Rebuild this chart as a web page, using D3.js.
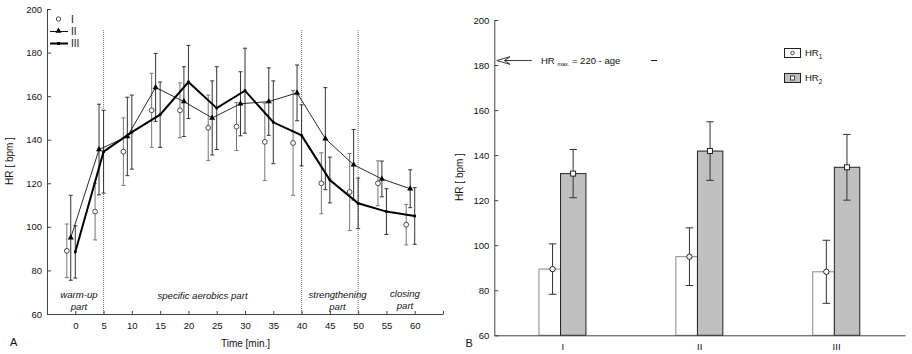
<!DOCTYPE html>
<html><head><meta charset="utf-8">
<script src="https://cdn.jsdelivr.net/npm/d3@7"></script>
<style>
body{margin:0;background:#fff;}
svg{display:block;font-family:"Liberation Sans",Arial,sans-serif;}
</style></head>
<body>
<svg id="c" width="912" height="354"></svg>
<script>
// ---------- Panel A data ----------
const times = [0,5,10,15,20,25,30,35,40,45,50,55,60];
const xTicksA = [0,5,10,15,20,25,30,35,40,45,50,55,60,65];
const yTicks = [60,80,100,120,140,160,180,200];
const seriesI   = [89, 107, 134.5, 153.5, 153.5, 145.5, 146, 139, 138.5, 120, 116, 120, 101];
const sdI       = [12.3, 13, 15.5, 17, 12.6, 15, 11, 17.8, 24, 14, 17.7, 10.3, 9.3];
const seriesII  = [95, 135.5, 141.5, 164, 157.5, 150, 156.5, 157.5, 161.5, 140.5, 128.5, 122, 117.5];
const sdII      = [19.5, 20.8, 18, 15.6, 16, 17, 14.7, 15.5, 12.8, 23.4, 16.2, 8.2, 8.7];
const seriesIII = [88.5, 134.5, 143.5, 151.5, 166.5, 154.5, 162.5, 148, 142, 121.5, 110.8, 107, 105];
const sdIII     = [12, 19, 17, 15, 16.8, 19, 19.5, 19, 14, 10.5, 11.6, 10.5, 13];
const seriesNames = ["I","II","III"];
const phaseBounds = [5, 40, 50];

// ---------- Panel B data ----------
const groups = ["I","II","III"];
const hr1 = [89.4, 94.9, 88.2];
const sd1 = [11.2, 12.8, 14];
const hr2 = [131.8, 141.8, 134.6];
const sd2 = [10.7, 13, 14.6];
const hrMaxLevel = 182;

const svg = d3.select("#c");
const axisCol = "#444";
const fs = "9.5px";

// ================= PANEL A =================
const xA = d3.scaleLinear().domain([-5,65]).range([47,443]);
const yA = d3.scaleLinear().domain([60,200]).range([314,9]);
const gA = svg.append("g");

gA.selectAll("line.ph").data(phaseBounds).join("line")
  .attr("x1",d=>xA(d)).attr("x2",d=>xA(d)).attr("y1",30).attr("y2",yA(60))
  .attr("stroke","#777").attr("stroke-width",1).attr("stroke-dasharray","1,1");

const axYA = d3.axisLeft(yA).tickValues(yTicks).tickSizeInner(-4).tickSizeOuter(0).tickPadding(5);
gA.append("g").attr("transform",`translate(${xA(-5)},0)`).call(axYA)
  .call(g=>{g.selectAll("path,line").attr("stroke",axisCol);g.selectAll("text").attr("font-size",fs).attr("fill","#111").attr("font-family","Liberation Sans, Arial");});
const axXA = d3.axisBottom(xA).tickValues(xTicksA).tickSizeInner(-3).tickSizeOuter(0).tickPadding(8.5)
  .tickFormat(d=>d>60?"":d);
gA.append("g").attr("transform",`translate(0,${yA(60)})`).call(axXA)
  .call(g=>{g.selectAll("path,line").attr("stroke",axisCol);g.selectAll("text").attr("font-size",fs).attr("fill","#111").attr("font-family","Liberation Sans, Arial");});

const series = [
  {vals:seriesI, sd:sdI, off:-1.5},
  {vals:seriesII, sd:sdII, off:-0.8},
  {vals:seriesIII, sd:sdIII, off:0}
];
function pts(s){return times.map((t,i)=>({x:xA(t+s.off), y:yA(s.vals[i]), hi:yA(s.vals[i]+s.sd[i]), lo:yA(s.vals[i]-s.sd[i])}));}

series.forEach((s,k)=>{
  const p = pts(s);
  const col = k===0?"#777":"#333";
  const g = gA.append("g").attr("stroke",col).attr("stroke-width",1).attr("fill","none");
  g.selectAll("line.v").data(p).join("line").attr("x1",d=>d.x).attr("x2",d=>d.x).attr("y1",d=>d.hi).attr("y2",d=>d.lo);
  g.selectAll("line.t").data(p).join("line").attr("x1",d=>d.x-2).attr("x2",d=>d.x+2).attr("y1",d=>d.hi).attr("y2",d=>d.hi);
  g.selectAll("line.b").data(p).join("line").attr("x1",d=>d.x-2).attr("x2",d=>d.x+2).attr("y1",d=>d.lo).attr("y2",d=>d.lo);
});

const line = d3.line().x(d=>d.x).y(d=>d.y);
gA.append("path").datum(pts(series[1])).attr("d",line).attr("fill","none").attr("stroke","#111").attr("stroke-width",0.9);
gA.append("path").datum(pts(series[2])).attr("d",line).attr("fill","none").attr("stroke","#000").attr("stroke-width",2);

gA.selectAll("circle.m1").data(pts(series[0])).join("circle")
  .attr("cx",d=>d.x).attr("cy",d=>d.y).attr("r",2.4).attr("fill","#fff").attr("stroke","#222").attr("stroke-width",0.8);
const tri = d3.symbol().type(d3.symbolTriangle).size(16);
gA.selectAll("path.m2").data(pts(series[1])).join("path")
  .attr("transform",d=>`translate(${d.x},${d.y})`).attr("d",tri).attr("fill","#000");
gA.selectAll("rect.m3").data(pts(series[2])).join("rect")
  .attr("x",d=>d.x-1.3).attr("y",d=>d.y-1.3).attr("width",2.6).attr("height",2.6).attr("fill","#000");

// legend A
const lg = gA.append("g");
lg.append("circle").attr("cx",58.5).attr("cy",19).attr("r",2.2).attr("fill","#fff").attr("stroke","#222").attr("stroke-width",0.8);
lg.append("line").attr("x1",50).attr("x2",68).attr("y1",31.5).attr("y2",31.5).attr("stroke","#111").attr("stroke-width",1);
lg.append("path").attr("transform","translate(58.5,31)").attr("d",tri).attr("fill","#000");
lg.append("line").attr("x1",50).attr("x2",68).attr("y1",43.5).attr("y2",43.5).attr("stroke","#000").attr("stroke-width",2);
lg.append("rect").attr("x",57).attr("y",42).attr("width",3).attr("height",3).attr("fill","#000");
lg.selectAll("text").data(seriesNames).join("text")
  .attr("x",71).attr("y",(d,i)=>22.5+i*12.3).attr("font-size","10px").attr("fill","#111").text(d=>d);

// phase labels
const phaseLabels = [
  {t:"warm-up", x:79, y:298},{t:"part", x:79, y:309.5},
  {t:"specific aerobics part", x:202.5, y:299},
  {t:"strengthening", x:337.5, y:298},{t:"part", x:337.5, y:309.5},
  {t:"closing", x:405, y:296.5},{t:"part", x:405, y:308.5}
];
gA.selectAll("text.ph").data(phaseLabels).join("text")
  .attr("x",d=>d.x).attr("y",d=>d.y).attr("text-anchor","middle").attr("font-size","9.6px")
  .attr("font-style","italic").attr("fill","#111").text(d=>d.t);

gA.append("text").attr("x",245.5).attr("y",346.5).attr("text-anchor","middle").attr("font-size","10px").attr("fill","#111").text("Time [min.]");
gA.append("text").attr("transform","translate(13,161) rotate(-90)").attr("text-anchor","middle").attr("font-size","10px").attr("fill","#111").text("HR [ bpm ]");
gA.append("text").attr("x",10).attr("y",346).attr("font-size","11px").attr("fill","#111").text("A");

// ================= PANEL B =================
const xB = d3.scaleBand().domain(groups).range([494.3,905]);
const yB = d3.scaleLinear().domain([60,200]).range([335.3,20]);
const gB = svg.append("g");

const axYB = d3.axisLeft(yB).tickValues(yTicks).tickSizeInner(-4).tickSizeOuter(0).tickPadding(5);
gB.append("g").attr("transform",`translate(494.3,0)`).call(axYB)
  .call(g=>{g.selectAll("path,line").attr("stroke",axisCol);g.selectAll("text").attr("font-size",fs).attr("fill","#111").attr("font-family","Liberation Sans, Arial");});

const cx = d=>xB(d)+xB.bandwidth()/2;
gB.selectAll("rect.b1").data(groups).join("rect")
  .attr("x",d=>cx(d)-23.8).attr("width",21.6)
  .attr("y",(d,i)=>yB(hr1[i])).attr("height",(d,i)=>yB(60)-yB(hr1[i]))
  .attr("fill","#fff").attr("stroke","#888").attr("stroke-width",1);
gB.selectAll("rect.b2").data(groups).join("rect")
  .attr("x",d=>cx(d)-2.2).attr("width",25.4)
  .attr("y",(d,i)=>yB(hr2[i])).attr("height",(d,i)=>yB(60)-yB(hr2[i]))
  .attr("fill","#c0c0c0").attr("stroke","#222").attr("stroke-width",1);

const axXB = d3.axisBottom(xB).tickSize(0).tickPadding(8);
gB.append("g").attr("transform",`translate(0,335.3)`).call(axXB)
  .call(g=>{g.selectAll("path").attr("stroke",axisCol);g.selectAll("text").attr("font-size",fs).attr("fill","#111").attr("font-family","Liberation Sans, Arial");});

function errB(vals, sds, off){
  const p = groups.map((d,i)=>({x:cx(d)+off, y:yB(vals[i]), hi:yB(vals[i]+sds[i]), lo:yB(vals[i]-sds[i])}));
  const g = gB.append("g").attr("stroke","#333").attr("stroke-width",1);
  g.selectAll("line.v").data(p).join("line").attr("x1",d=>d.x).attr("x2",d=>d.x).attr("y1",d=>d.hi).attr("y2",d=>d.lo);
  g.selectAll("line.t").data(p).join("line").attr("x1",d=>d.x-3.8).attr("x2",d=>d.x+3.8).attr("y1",d=>d.hi).attr("y2",d=>d.hi);
  g.selectAll("line.b").data(p).join("line").attr("x1",d=>d.x-3.8).attr("x2",d=>d.x+3.8).attr("y1",d=>d.lo).attr("y2",d=>d.lo);
  return p;
}
const p1 = errB(hr1, sd1, -10.2);
const p2 = errB(hr2, sd2, 10.4);
gB.selectAll("circle.m").data(p1).join("circle").attr("cx",d=>d.x).attr("cy",d=>d.y).attr("r",2.7)
  .attr("fill","#fff").attr("stroke","#111").attr("stroke-width",0.9);
gB.selectAll("rect.m").data(p2).join("rect").attr("x",d=>d.x-2.5).attr("y",d=>d.y-2.5).attr("width",5).attr("height",5)
  .attr("fill","#fff").attr("stroke","#111").attr("stroke-width",0.9);

// legend B
const lb = gB.append("g");
lb.append("rect").attr("x",784.5).attr("y",48.5).attr("width",16).attr("height",9).attr("fill","#fff").attr("stroke","#222");
lb.append("circle").attr("cx",792.5).attr("cy",53).attr("r",1.8).attr("fill","#fff").attr("stroke","#222").attr("stroke-width",0.8);
lb.append("rect").attr("x",784.5).attr("y",73.5).attr("width",16).attr("height",9).attr("fill","#c0c0c0").attr("stroke","#222");
lb.append("rect").attr("x",790.5).attr("y",76).attr("width",4).attr("height",4).attr("fill","#fff").attr("stroke","#222").attr("stroke-width",0.8);
[["1",56],["2",81]].forEach(([s,y])=>{
  const t = lb.append("text").attr("x",805).attr("y",y).attr("font-size","9.5px").attr("fill","#111");
  t.append("tspan").text("HR");
  t.append("tspan").attr("font-size","6.5px").attr("dy",2.5).text(s);
});

// HRmax annotation
const ya = yB(hrMaxLevel);
gB.append("path").attr("d",`M510,${ya-3.8} L496.8,${ya} L510,${ya+3.8} M510,${ya-3.8} L504.5,${ya} L510,${ya+3.8} M504.5,${ya} L531.7,${ya}`)
  .attr("fill","none").attr("stroke","#222").attr("stroke-width",0.9);
const at = gB.append("text").attr("x",541).attr("y",ya+3.6).attr("font-size","9.5px").attr("fill","#111");
at.append("tspan").text("HR ");
at.append("tspan").attr("font-size","5.5px").attr("dy",1.5).text("max.");
at.append("tspan").attr("dy",-1.5).text(" = 220 - age");
gB.append("line").attr("x1",651).attr("x2",657).attr("y1",ya).attr("y2",ya).attr("stroke","#222").attr("stroke-width",1);

gB.append("text").attr("transform","translate(463,177) rotate(-90)").attr("text-anchor","middle").attr("font-size","10px").attr("fill","#111").text("HR [ bpm ]");
gB.append("text").attr("x",465.5).attr("y",347).attr("font-size","11px").attr("fill","#111").text("B");
</script>
</body></html>
